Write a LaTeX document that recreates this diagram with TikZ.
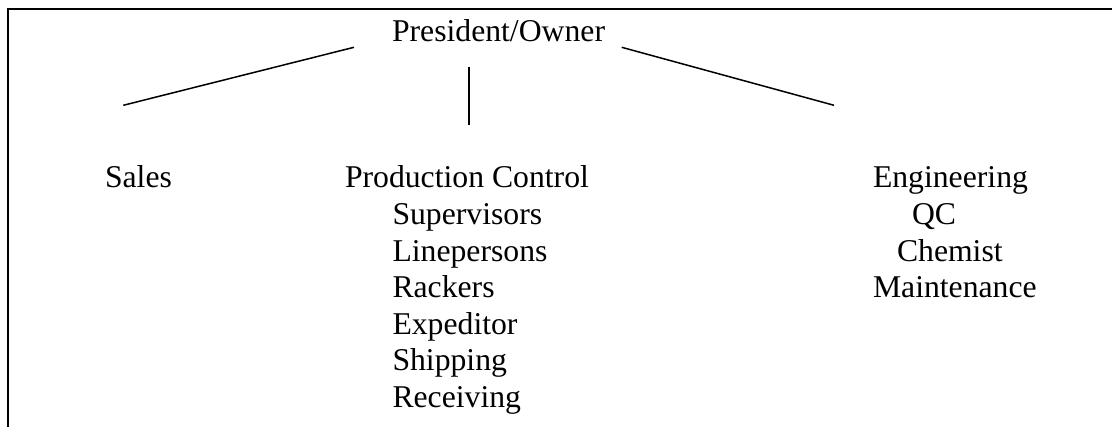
\documentclass[tikz,border=0pt]{standalone}
\usepackage{fontspec}
\setmainfont{Liberation Serif}
\begin{document}
\begin{tikzpicture}[x=0.5pt,y=-0.5pt,
  lbl/.style={anchor=base west,inner sep=0pt,outer sep=0pt,font=\fontsize{15.85pt}{18.25pt}\selectfont},
  border/.style={line width=1pt,black},
  conn/.style={line width=0.75pt,black}]
\useasboundingbox (0,0) rectangle (1112,427);
% frame: top and left edges only
\coordinate (tl) at (8,9.5);
\coordinate (tr) at (1112,9.5);
\coordinate (bl) at (8,427);
\draw[border] (tr) -- (tl) -- (bl);
% texts
\node[lbl] (pres) at (392,41.7) {President/Owner};
\node[lbl] (sales) at (105,188) {Sales};
\node[lbl] (prod) at (345,188) {Production Control};
\node[lbl] (sup) at (392.5,224.5) {Supervisors};
\node[lbl] (line) at (392.5,261) {Linepersons};
\node[lbl] (rack) at (392.5,297.5) {Rackers};
\node[lbl] (exp) at (392.5,334) {Expeditor};
\node[lbl] (ship) at (392.5,370.5) {Shipping};
\node[lbl] (recv) at (392.5,407) {Receiving};
\node[lbl] (eng) at (873,188) {Engineering};
\node[lbl] (qc) at (912,224.5) {QC};
\node[lbl] (chem) at (897,261) {Chemist};
\node[lbl] (maint) at (873,297.5) {Maintenance};
% connector end points
\coordinate (l1) at (354,47.3);
\coordinate (l2) at (123.3,105.3);
\coordinate (m1) at (469,66.7);
\coordinate (m2) at (469,125);
\coordinate (r1) at (621.7,47.3);
\coordinate (r2) at (834,105.3);
\draw[conn] (l1) -- (l2);
\draw[conn] (m1) -- (m2);
\draw[conn] (r1) -- (r2);
\end{tikzpicture}
\end{document}
